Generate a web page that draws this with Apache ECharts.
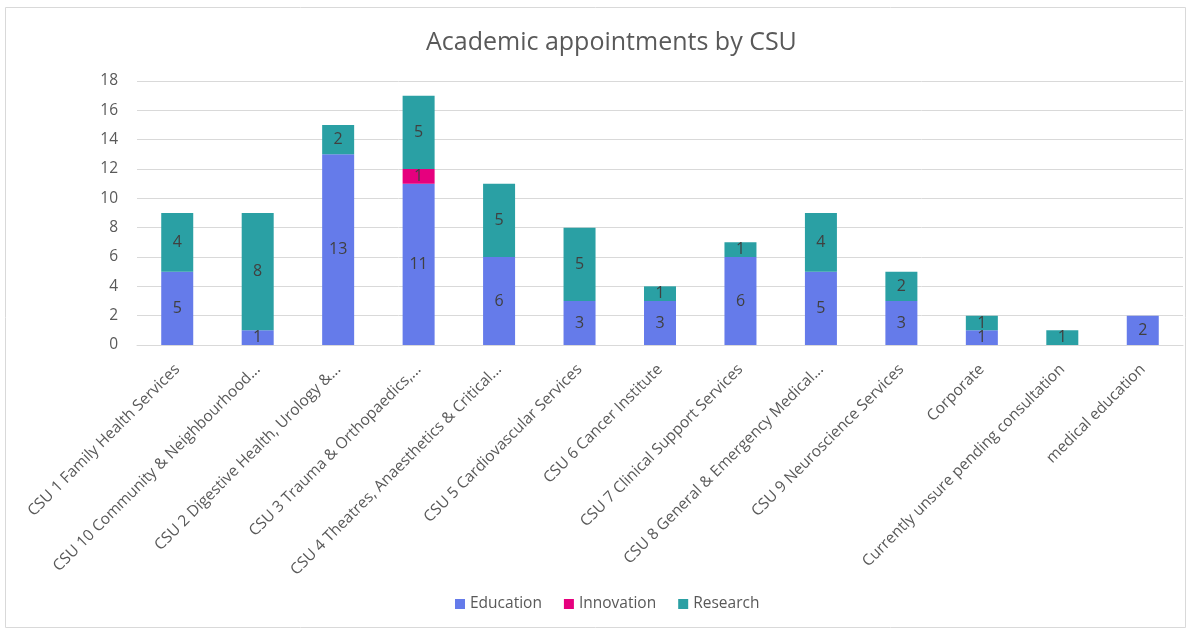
<!DOCTYPE html>
<html><head><meta charset="utf-8">
<script src="https://cdn.jsdelivr.net/npm/echarts@6/dist/echarts.min.js"></script>
<style>html,body{margin:0;padding:0;background:#fff}#c{width:1193px;height:630px}</style>
</head><body><div id="c"></div>
<script>
const categories = [
  "CSU 1 Family Health Services",
  "CSU 10 Community & Neighbourhood...",
  "CSU 2 Digestive Health, Urology &...",
  "CSU 3 Trauma & Orthopaedics,...",
  "CSU 4 Theatres, Anaesthetics & Critical...",
  "CSU 5 Cardiovascular Services",
  "CSU 6 Cancer Institute",
  "CSU 7 Clinical Support Services",
  "CSU 8 General & Emergency Medical...",
  "CSU 9 Neuroscience Services",
  "Corporate",
  "Currently unsure pending consultation",
  "medical education"
];
const education  = [5, 1, 13, 11, 6, 3, 3, 6, 5, 3, 1, null, 2];
const innovation = [null, null, null, 1, null, null, null, null, null, null, null, null, null];
const research   = [4, 8, 2, 5, 5, 5, 1, 1, 4, 2, 1, 1, null];
const yTicks = { min: 0, max: 18, interval: 2 };

const FONT = "'Open Sans', 'Noto Sans', sans-serif";
const chart = echarts.init(document.getElementById('c'), null, {renderer: 'canvas'});
const lbl = {show: true, position: 'inside', color: '#404040', fontSize: 16, fontFamily: FONT};
function mk(name, data, color) {
  return {name, type: 'bar', stack: 'total', data, barWidth: 32,
    itemStyle: {color}, label: lbl, emphasis: {disabled: true}};
}
chart.setOption({
  animation: false,
  textStyle: {fontFamily: FONT},
  title: {text: 'Academic appointments by CSU', left: 421, top: 25,
    textStyle: {fontSize: 25, fontWeight: 'normal', color: '#595959', fontFamily: FONT}},
  graphic: [{type: 'rect', shape: {x: 5.5, y: 7.5, width: 1180, height: 620},
    style: {fill: 'none', stroke: '#d9d9d9', lineWidth: 1}, silent: true, z: -1}],
  legend: {bottom: 13, left: 450, itemWidth: 10, itemHeight: 10, itemGap: 22,
    icon: 'rect', textStyle: {fontSize: 15.5, color: '#595959', fontFamily: FONT},
    data: ['Education', 'Innovation', 'Research']},
  grid: {left: 137, right: 10, top: 81, bottom: 285, containLabel: false},
  xAxis: {type: 'category', data: categories,
    axisLine: {lineStyle: {color: '#d9d9d9'}}, axisTick: {show: false},
    axisLabel: {rotate: 45, interval: 0, color: '#595959', fontSize: 15.5, margin: 22, fontFamily: FONT}},
  yAxis: {type: 'value', min: yTicks.min, max: yTicks.max, interval: yTicks.interval,
    axisLine: {show: false}, axisTick: {show: false},
    axisLabel: {color: '#595959', fontSize: 15.5, margin: 19, fontFamily: FONT},
    splitLine: {lineStyle: {color: '#d9d9d9'}}},
  series: [
    mk('Education', education, '#657bea'),
    mk('Innovation', innovation, '#e6007e'),
    mk('Research', research, '#2aa0a4')
  ]
});
</script></body></html>
